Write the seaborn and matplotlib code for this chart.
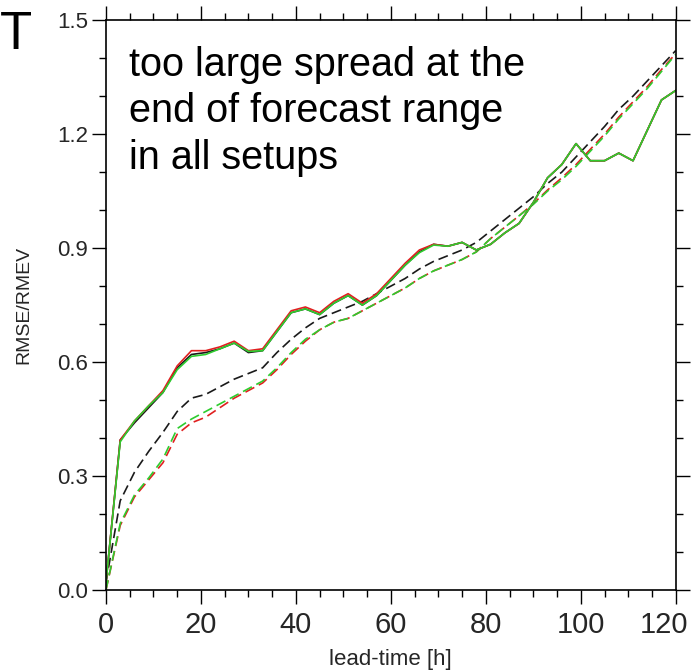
import numpy as np
import pandas as pd
import matplotlib
matplotlib.use("Agg")
import matplotlib.pyplot as plt
import matplotlib.transforms as mtransforms
import seaborn as sns
from matplotlib.ticker import MultipleLocator

sns.set_theme(style="ticks")
plt.rcParams['font.family'] = ['Liberation Sans', 'DejaVu Sans']

lead_time = list(range(0, 121, 3))

rmse_black = [0.02, 0.395, 0.44, 0.48, 0.52, 0.585, 0.62, 0.625, 0.635, 0.65,
              0.625, 0.63, 0.68, 0.73, 0.74, 0.725, 0.755, 0.775, 0.75, 0.775,
              0.815, 0.855, 0.89, 0.91, 0.905, 0.915, 0.895, 0.91, 0.94, 0.965,
              1.02, 1.085, 1.12, 1.175, 1.13, 1.13, 1.15, 1.13, 1.21, 1.29, 1.315]
rmse_red = [0.02, 0.395, 0.445, 0.485, 0.525, 0.59, 0.63, 0.63, 0.64, 0.655,
            0.63, 0.635, 0.685, 0.735, 0.745, 0.73, 0.76, 0.78, 0.755, 0.78,
            0.82, 0.86, 0.895, 0.91, 0.905, 0.915, 0.895, 0.91, 0.94, 0.965,
            1.02, 1.085, 1.12, 1.175, 1.13, 1.13, 1.15, 1.13, 1.21, 1.29, 1.315]
rmse_green = [0.02, 0.39, 0.445, 0.485, 0.52, 0.58, 0.615, 0.62, 0.635, 0.65,
              0.628, 0.63, 0.68, 0.73, 0.74, 0.725, 0.755, 0.775, 0.75, 0.775,
              0.815, 0.855, 0.888, 0.908, 0.905, 0.915, 0.895, 0.91, 0.94, 0.965,
              1.02, 1.085, 1.12, 1.175, 1.13, 1.13, 1.15, 1.13, 1.21, 1.29, 1.315]

spread_black = [0.02, 0.235, 0.31, 0.365, 0.415, 0.47, 0.505, 0.515, 0.535, 0.555,
                0.57, 0.585, 0.625, 0.66, 0.69, 0.715, 0.73, 0.745, 0.76, 0.78,
                0.80, 0.82, 0.845, 0.865, 0.88, 0.895, 0.915, 0.945, 0.975, 1.005,
                1.035, 1.07, 1.10, 1.14, 1.18, 1.22, 1.265, 1.30, 1.34, 1.38, 1.42]
spread_red = [0.0, 0.17, 0.245, 0.29, 0.335, 0.41, 0.44, 0.455, 0.48, 0.505,
              0.525, 0.545, 0.58, 0.62, 0.655, 0.685, 0.705, 0.715, 0.735, 0.755,
              0.775, 0.795, 0.82, 0.84, 0.855, 0.87, 0.89, 0.925, 0.955, 0.985,
              1.017, 1.053, 1.085, 1.12, 1.16, 1.2, 1.245, 1.285, 1.325, 1.37, 1.412]
spread_green = [0.0, 0.175, 0.25, 0.295, 0.345, 0.425, 0.45, 0.47, 0.49, 0.51,
                0.53, 0.55, 0.585, 0.625, 0.66, 0.685, 0.705, 0.715, 0.735, 0.755,
                0.775, 0.795, 0.82, 0.84, 0.855, 0.87, 0.89, 0.925, 0.955, 0.985,
                1.015, 1.05, 1.08, 1.115, 1.155, 1.195, 1.24, 1.28, 1.32, 1.365, 1.41]

x_ticks = [0, 20, 40, 60, 80, 100, 120]
y_ticks = [0.0, 0.3, 0.6, 0.9, 1.2, 1.5]

BLACK = "#1a1a1a"
RED = "#e02020"
GREEN = "#2ecc2e"

fig = plt.figure(figsize=(6.94, 6.72), dpi=100)
ax = fig.add_axes([0.1527, 0.122, 0.821, 0.848])

dash = (6, 3)
for vals, col in [(spread_black, BLACK), (spread_red, RED), (spread_green, GREEN)]:
    sns.lineplot(x=lead_time, y=vals, ax=ax, color=col, linewidth=1.2,
                 legend=False)
    ax.lines[-1].set_dashes(dash)
for vals, col in [(rmse_black, BLACK), (rmse_red, RED), (rmse_green, GREEN)]:
    sns.lineplot(x=lead_time, y=vals, ax=ax, color=col, linewidth=1.2, legend=False)

ax.set_xlim(0, 120)
ax.set_ylim(0, 1.5)
ax.set_xticks(x_ticks)
ax.set_xticklabels([str(v) for v in x_ticks], fontsize=21)
ax.set_yticks(y_ticks)
ax.set_yticklabels([f"{v:.1f}" for v in y_ticks], fontsize=16)
ax.xaxis.set_minor_locator(MultipleLocator(5))
ax.yaxis.set_minor_locator(MultipleLocator(0.1))
ax.tick_params(which="both", direction="out", top=True, right=True,
               width=1.0, color="black")
ax.tick_params(which="major", length=10)
ax.tick_params(which="minor", length=5)
ax.tick_params(axis="x", which="major", pad=5)
ax.tick_params(axis="y", which="major", pad=3)
for s in ax.spines.values():
    s.set_visible(True)
    s.set_linewidth(1.2)
    s.set_color("black")

# shift the last x tick label left so it stays inside the figure
last = ax.get_xticklabels()[-1]
last.set_transform(last.get_transform() +
                   mtransforms.ScaledTranslation(-12 / 100, 0, fig.dpi_scale_trans))

ax.set_xlabel("lead-time [h]", fontsize=16, labelpad=7)
ax.set_ylabel("RMSE/RMEV", fontsize=14, labelpad=18)

ax.text(0.04, 0.955, "too large spread at the\nend of forecast range\nin all setups",
        transform=ax.transAxes, ha="left", va="top", fontsize=28.5,
        linespacing=1.28, color="black")
fig.text(0.0, 0.985, "T", ha="left", va="top", fontsize=38, color="black")

fig.savefig("out.png", dpi=100)
